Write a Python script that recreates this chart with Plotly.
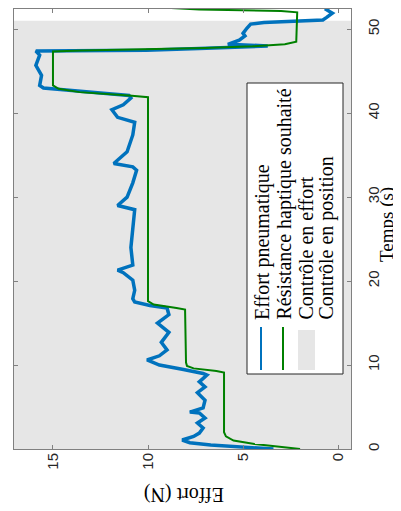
import plotly.graph_objects as go

# ---------------- data ----------------
# Effort pneumatique (measured force, N) vs time (s)
blue_t = [0.0, 0.27, 0.48, 0.75, 1.07, 1.5, 1.9, 2.5, 3.1, 3.7, 4.3, 4.4, 4.9, 5.8, 6.7, 7.4, 8.0, 8.8, 9.0,
          9.5, 10.0, 10.6, 11.1, 11.8, 12.7, 13.9, 15.0, 16.0, 16.8, 17.1, 17.5, 17.9, 18.9, 20.1, 21.0, 21.3,
          21.9, 24.0, 26.1, 28.5, 29.0, 30.0, 31.7, 33.2, 33.6, 34.0, 35.4, 37.4, 38.9, 39.5, 40.4, 41.0, 41.8,
          42.1, 42.4, 42.7, 43.0, 43.3, 44.5, 45.7, 46.9, 47.4, 47.5, 47.7, 47.85, 48.0, 48.2, 48.7, 49.2, 49.5,
          50.1, 50.6, 50.8, 51.1, 51.4, 51.9, 52.3, 52.5]
blue_e = [3.4, 5.5, 6.7, 7.8, 8.2, 7.6, 7.3, 7.1, 7.4, 7.0, 7.3, 7.8, 7.1, 7.0, 7.4, 7.0, 7.3, 6.9, 7.1,
          8.2, 9.4, 10.05, 9.4, 9.0, 9.3, 8.9, 9.5, 8.9, 9.0, 9.9, 10.7, 10.8, 10.7, 10.8, 11.3, 11.6,
          10.8, 10.9, 10.8, 10.7, 11.6, 11.1, 10.8, 10.6, 10.8, 11.8, 11.1, 10.8, 10.7, 11.6, 11.9, 11.3, 10.9,
          11.0, 12.5, 14.3, 15.5, 15.7, 15.6, 15.9, 15.7, 15.9, 10.1, 7.3, 5.2, 3.7, 5.8, 5.2, 4.9, 5.0,
          4.8, 4.6, 3.9, 0.8, 0.6, 0.3, 0.6, 0.5]

# Résistance haptique souhaitée (desired force, N) vs time (s)
green_t = [0.0, 0.3, 0.6, 1.0, 1.5, 2.0, 9.1, 9.3, 9.6, 9.9, 10.3, 16.6, 16.8, 17.2, 17.6, 41.9, 42.1, 42.5,
           42.9, 43.3, 47.35, 47.45, 47.6, 47.75, 47.95, 48.2, 48.5, 52.0, 52.15, 52.35, 52.6]
green_e = [2.0, 3.3, 4.4, 5.5, 5.9, 6.0, 6.0, 6.4, 7.6, 7.95, 8.0, 8.05, 8.5, 9.7, 10.0, 10.0, 11.0, 13.6,
           14.7, 15.0, 15.0, 13.5, 10.0, 7.0, 4.5, 2.8, 2.2, 2.15, 3.0, 7.3, 9.5]

# control modes: force control interval (s)
effort_ctrl_start = [0.0]
effort_ctrl_end = [51.0]

x_ticks = [0, 5, 10, 15]
y_ticks = [0, 10, 20, 30, 40, 50]
x_range = [17.05, -0.68]
y_range = [0, 52.4]

legend_labels = ["Effort pneumatique", "Résistance haptique souhaité",
                 "Contrôle en effort", "Contrôle en position"]

BLUE = "#0072BD"
GREEN = "#008000"
GRAY = "#e6e6e6"
SERIF = "Liberation Serif"
SANS = "Liberation Sans"

fig = go.Figure()

# gray background for force-control phases
for a, b in zip(effort_ctrl_start, effort_ctrl_end):
    fig.add_shape(type="rect", xref="paper", yref="y", x0=0, x1=1, y0=a, y1=b,
                  fillcolor=GRAY, line=dict(width=0), layer="below")

fig.add_trace(go.Scatter(x=blue_e, y=blue_t, mode="lines",
                         line=dict(color=BLUE, width=3.5), showlegend=False))
fig.add_trace(go.Scatter(x=green_e, y=green_t, mode="lines",
                         line=dict(color=GREEN, width=2), showlegend=False))

# the page body keeps its default 8px margin, so the figure is sized to fit the window
OFF = 8
W, H = 401 - OFF, 511 - OFF
L, R, T, B = 6, 50, 1, 62
pw, ph = W - L - R, H - T - B


def px(sx):
    return (sx - OFF - L) / pw


def py(sy):
    return (H - B - (sy - OFF)) / ph


# rotated legend (manual)
fig.add_shape(type="rect", xref="paper", yref="paper", x0=px(247), x1=px(343), y0=py(374), y1=py(83),
              fillcolor="white", line=dict(color="#262626", width=1))
fig.add_shape(type="line", xref="paper", yref="paper", x0=px(261), x1=px(261), y0=py(370), y1=py(327),
              line=dict(color=BLUE, width=2))
fig.add_shape(type="line", xref="paper", yref="paper", x0=px(283), x1=px(283), y0=py(370), y1=py(327),
              line=dict(color=GREEN, width=2))
fig.add_shape(type="rect", xref="paper", yref="paper", x0=px(298), x1=px(315), y0=py(370), y1=py(330),
              fillcolor=GRAY, line=dict(width=0))
for cx, lab in zip([262, 284, 305, 326], legend_labels):
    fig.add_annotation(xref="paper", yref="paper", x=px(cx), y=py(322), text=lab, showarrow=False,
                       textangle=-90, xanchor="center", yanchor="bottom",
                       font=dict(family=SERIF, size=20, color="#000000"))

# axis titles (rotated as in the reference)
fig.add_annotation(xref="paper", yref="paper", x=px(184), y=py(495), text="Effort (N)", showarrow=False,
                   textangle=180, xanchor="center", yanchor="middle",
                   font=dict(family=SERIF, size=20, color="#000000"))
fig.add_annotation(xref="paper", yref="paper", x=px(387), y=py(224), text="Temps (s)", showarrow=False,
                   textangle=-90, xanchor="center", yanchor="middle",
                   font=dict(family=SERIF, size=19, color="#000000"))

axis_common = dict(showgrid=False, zeroline=False, showline=True, linecolor="#808080", linewidth=1,
                   mirror="ticks", ticks="inside", ticklen=4, tickcolor="#808080",
                   tickfont=dict(family=SANS, size=15, color="#262626"), tickangle=-90)

fig.update_xaxes(range=x_range, tickvals=x_ticks, ticktext=[str(v) for v in x_ticks],
                 ticklabelstandoff=-3, **axis_common)
fig.update_yaxes(range=y_range, tickvals=y_ticks, ticktext=[str(v) for v in y_ticks], side="right",
                 ticklabelstandoff=9, **axis_common)

fig.update_layout(width=W, height=H, margin=dict(l=L, r=R, t=T, b=B, autoexpand=False),
                  plot_bgcolor="white", paper_bgcolor="white", showlegend=False)

fig.write_html("out.html")
